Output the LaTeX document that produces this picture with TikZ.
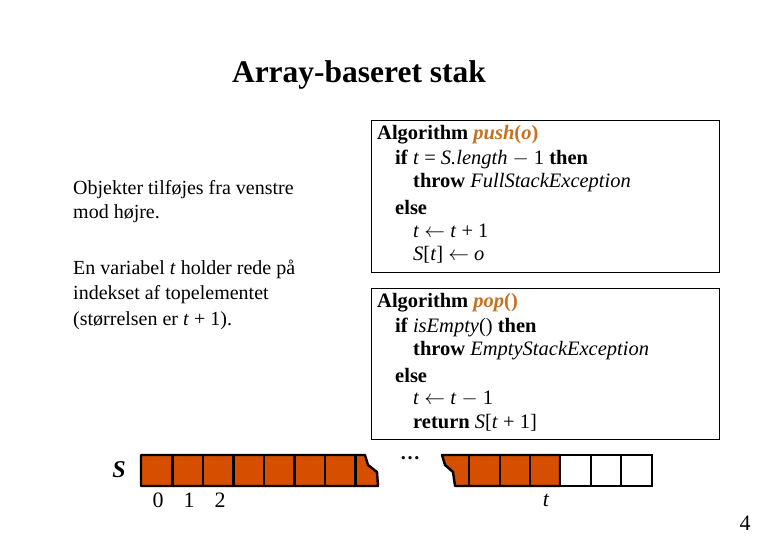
\documentclass[tikz,border=0pt]{standalone}
\usepackage{fontspec}
\setmainfont{Liberation Serif}
\definecolor{orng}{RGB}{200,112,30}
\definecolor{cellc}{RGB}{214,78,0}
\begin{document}
\begin{tikzpicture}[x=1pt,y=-1pt,
  txt/.style={anchor=west,inner sep=0pt,font=\fontsize{20}{24}\selectfont},
  alg/.style={anchor=west,inner sep=0pt,font=\fontsize{20.5}{24}\selectfont},
  box/.style={draw,line width=0.8pt}]
\useasboundingbox (0,0) rectangle (780,540);
\node[font=\fontsize{31.5}{34}\selectfont\bfseries] (title) at (359,75) {Array-baseret stak};
\node[txt] (l1) at (73,190) {Objekter tilføjes fra venstre};
\node[txt] (l2) at (73,214) {mod højre.};
\node[txt] (l3) at (73,269) {En variabel \textit{t} holder rede på};
\node[txt] (l4) at (73,295) {indekset af topelementet};
\node[txt] (l5) at (73,321) {(størrelsen er \textit{t} + 1).};
% boxes
\draw[box] (371,120) rectangle (719,272);
\draw[box] (371,288) rectangle (719,439);
\node[alg] (a1) at (377,135) {\textbf{Algorithm} \textcolor{orng}{\textbf{\textit{push}(\textit{o})}}};
\node[alg] (a2) at (395,159) {\textbf{if} \textit{t} = \textit{S.length} $-$ 1 \textbf{then}};
\node[alg] (a3) at (413,183) {\textbf{throw} \textit{FullStackException}};
\node[alg] (a4) at (395,207) {\textbf{else}};
\node[alg] (a5) at (413,231) {\textit{t} $\leftarrow$ \textit{t} + 1};
\node[alg] (a6) at (413,255) {\textit{S}[\textit{t}] $\leftarrow$ \textit{o}};
\node[alg] (b1) at (377,303) {\textbf{Algorithm} \textcolor{orng}{\textbf{\textit{pop}()}}};
\node[alg] (b2) at (395,327) {\textbf{if} \textit{isEmpty}() \textbf{then}};
\node[alg] (b3) at (413,351) {\textbf{throw} \textit{EmptyStackException}};
\node[alg] (b4) at (395,375) {\textbf{else}};
\node[alg] (b5) at (413,399) {\textit{t} $\leftarrow$ \textit{t} $-$ 1};
\node[alg] (b6) at (413,423) {\textbf{return} \textit{S}[\textit{t} + 1]};
% array
\draw[line width=2.4pt,fill=cellc,line join=round] (141,455) -- (365,455) -- (368,465) -- (377,472) -- (378,486) -- (141,486) -- cycle;
\foreach \x in {172.5,203,233.5,264,294.5,325,355.5}
  \draw[line width=2.4pt] (\x,455) -- (\x,486);
\draw[line width=2.4pt,fill=cellc,line join=round] (442,455) -- (560,455) -- (560,486) -- (455,486) -- (453,472) -- (445,465) -- cycle;
\draw[line width=2.4pt,fill=white] (560,455) rectangle (652,486);
\foreach \x in {469,500,530,591,621}
  \draw[line width=2.4pt] (\x,455) -- (\x,486);
\node[font=\fontsize{24}{26}\selectfont\bfseries\itshape] (S) at (119,470) {S};
\node[font=\fontsize{20}{22}\selectfont] (d) at (410,458) {\textbf{\dots}};
\node[font=\fontsize{22}{24}\selectfont] (i0) at (158,500) {0};
\node[font=\fontsize{22}{24}\selectfont] (i1) at (189,500) {1};
\node[font=\fontsize{22}{24}\selectfont] (i2) at (220,500) {2};
\node[font=\fontsize{22}{24}\selectfont\itshape] (it) at (546,500) {t};
\node[font=\fontsize{22}{24}\selectfont] (pg) at (745,523) {4};
\end{tikzpicture}
\end{document}
